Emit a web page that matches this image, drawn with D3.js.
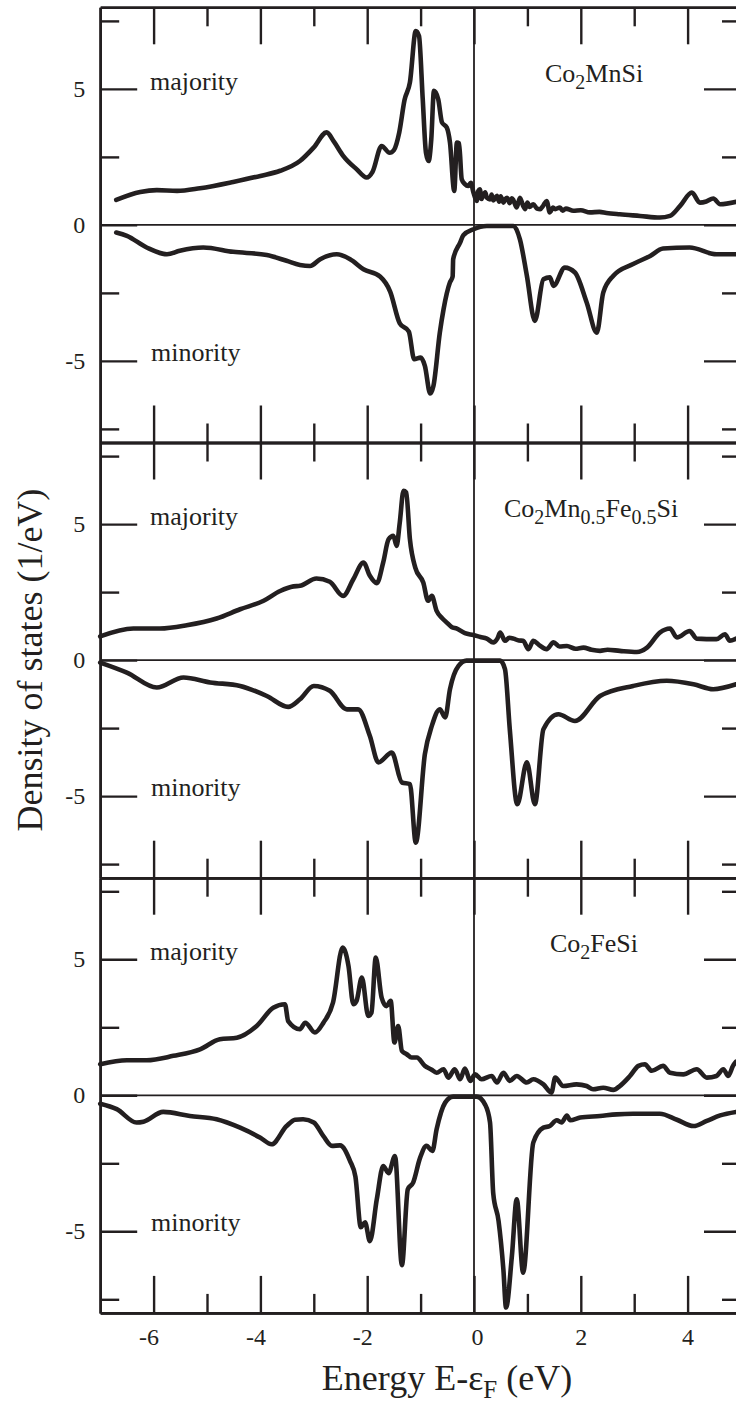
<!DOCTYPE html>
<html>
<head>
<meta charset="utf-8">
<script src="https://cdn.jsdelivr.net/npm/d3@7"></script>
<style>
  html, body { margin: 0; padding: 0; background: #fff; }
  svg { display: block; }
  svg text { font-family: 'Liberation Serif', 'Tinos', 'DejaVu Serif', 'Times New Roman', serif !important; fill: #231f20; }
</style>
</head>
<body>
<svg id="chart" width="736" height="1405"></svg>
<script>
// ---------------- data (energy eV, DOS 1/eV) ----------------
const compounds = ["Co2MnSi", "Co2Mn0.5Fe0.5Si", "Co2FeSi"];
const xMajorTicks = [-6, -4, -2, 0, 2, 4];
const xMinorTicks = [-5, -3, -1, 1, 3];
const yMajorTicks = [-5, 0, 5];
const yMinorTicks = [-7.5, -2.5, 2.5, 7.5];

const mnSiMajority = [[-6.70,0.92],[-6.25,1.21],[-5.94,1.28],[-5.56,1.25],[-5.13,1.35],[-4.51,1.58],[-4.00,1.80],[-3.63,1.99],[-3.26,2.35],[-3.00,2.85],[-2.76,3.40],[-2.62,3.05],[-2.45,2.54],[-2.20,2.05],[-2.01,1.74],[-1.90,1.95],[-1.73,2.90],[-1.58,2.65],[-1.50,2.75],[-1.40,3.40],[-1.30,4.60],[-1.20,5.24],[-1.09,7.13],[-1.03,6.95],[-0.96,4.62],[-0.90,2.66],[-0.85,2.35],[-0.80,3.15],[-0.75,4.93],[-0.67,4.62],[-0.60,3.77],[-0.51,3.58],[-0.45,3.03],[-0.37,1.25],[-0.32,3.03],[-0.28,3.00],[-0.23,1.68],[-0.17,1.50],[-0.11,1.43],[-0.06,1.55],[-0.01,1.19],[0.05,0.88],[0.08,1.25],[0.11,1.31],[0.14,0.95],[0.17,1.07],[0.21,1.20],[0.24,1.00],[0.30,0.94],[0.33,1.12],[0.36,0.90],[0.43,1.07],[0.47,0.85],[0.50,1.05],[0.55,0.82],[0.59,0.96],[0.62,1.00],[0.67,0.80],[0.71,0.98],[0.74,0.90],[0.80,0.64],[0.86,1.00],[0.92,0.70],[0.96,0.58],[1.00,0.82],[1.04,0.66],[1.11,0.76],[1.18,0.60],[1.24,0.58],[1.30,0.72],[1.36,0.88],[1.42,0.46],[1.48,0.64],[1.52,0.58],[1.61,0.64],[1.66,0.52],[1.72,0.60],[1.86,0.52],[2.00,0.54],[2.17,0.46],[2.35,0.48],[2.48,0.44],[2.73,0.39],[3.11,0.33],[3.48,0.27],[3.67,0.33],[3.86,0.70],[4.08,1.19],[4.23,0.82],[4.35,0.86],[4.48,0.97],[4.61,0.76],[4.91,0.85]];

const mnSiMinority = [[-6.70,-0.28],[-6.50,-0.40],[-6.13,-0.83],[-5.75,-1.08],[-5.51,-0.95],[-5.07,-0.83],[-4.51,-0.99],[-3.88,-1.11],[-3.51,-1.32],[-3.26,-1.47],[-3.07,-1.51],[-2.88,-1.26],[-2.57,-1.08],[-2.32,-1.26],[-2.07,-1.63],[-1.76,-1.90],[-1.57,-2.45],[-1.39,-3.62],[-1.22,-3.92],[-1.12,-4.94],[-1.00,-4.88],[-0.92,-5.18],[-0.82,-6.20],[-0.76,-5.92],[-0.64,-3.96],[-0.57,-3.10],[-0.45,-2.11],[-0.40,-1.90],[-0.39,-1.26],[-0.26,-0.65],[-0.20,-0.38],[-0.01,-0.16],[0.24,-0.04],[0.74,-0.04],[0.86,-0.53],[0.99,-1.87],[1.14,-3.53],[1.30,-2.00],[1.42,-1.93],[1.49,-2.24],[1.70,-1.57],[1.89,-1.75],[2.11,-2.85],[2.30,-3.96],[2.42,-2.49],[2.61,-1.87],[2.98,-1.44],[3.30,-1.14],[3.54,-0.87],[4.04,-0.83],[4.54,-1.08],[4.91,-1.08]];

const mnFeSiMajority = [[-7.00,0.87],[-6.38,1.16],[-5.88,1.16],[-5.38,1.28],[-4.82,1.53],[-4.38,1.87],[-3.94,2.18],[-3.63,2.54],[-3.38,2.71],[-3.26,2.73],[-2.95,3.00],[-2.70,2.88],[-2.45,2.36],[-2.26,2.97],[-2.07,3.59],[-1.95,3.10],[-1.82,2.83],[-1.70,3.59],[-1.60,4.44],[-1.51,4.57],[-1.45,4.20],[-1.39,5.06],[-1.32,6.22],[-1.27,6.16],[-1.20,4.44],[-1.10,3.40],[-0.95,2.85],[-0.86,2.18],[-0.79,2.36],[-0.70,1.81],[-0.60,1.55],[-0.51,1.38],[-0.42,1.22],[-0.32,1.16],[-0.17,0.99],[-0.01,0.92],[0.12,0.85],[0.24,0.79],[0.36,0.65],[0.44,0.80],[0.49,1.01],[0.58,0.71],[0.66,0.82],[0.74,0.79],[0.84,0.72],[0.92,0.71],[1.02,0.40],[1.11,0.71],[1.22,0.55],[1.36,0.40],[1.49,0.65],[1.60,0.50],[1.74,0.52],[1.90,0.42],[2.05,0.46],[2.20,0.38],[2.36,0.34],[2.50,0.38],[2.73,0.34],[3.05,0.30],[3.24,0.46],[3.48,1.01],[3.67,1.16],[3.80,0.83],[4.04,1.07],[4.17,0.79],[4.54,0.77],[4.70,0.95],[4.79,0.71],[4.91,0.79]];

const mnFeSiMinority = [[-7.00,-0.09],[-6.50,-0.46],[-5.94,-1.01],[-5.44,-0.64],[-4.94,-0.82],[-4.38,-0.95],[-3.88,-1.32],[-3.48,-1.72],[-3.26,-1.44],[-3.00,-0.95],[-2.70,-1.13],[-2.38,-1.81],[-2.17,-1.81],[-1.95,-2.79],[-1.79,-3.76],[-1.54,-3.40],[-1.35,-4.50],[-1.20,-4.56],[-1.09,-6.71],[-0.92,-3.46],[-0.79,-2.42],[-0.64,-1.81],[-0.54,-2.11],[-0.45,-1.07],[-0.29,-0.21],[-0.14,-0.02],[0.49,-0.02],[0.58,-0.33],[0.67,-2.54],[0.81,-5.30],[0.99,-3.76],[1.14,-5.30],[1.30,-2.54],[1.58,-1.99],[1.89,-2.24],[2.36,-1.32],[2.98,-0.95],[3.61,-0.76],[4.11,-0.89],[4.48,-1.07],[4.91,-0.89]];

const feSiMajority = [[-7.00,1.14],[-6.50,1.29],[-6.13,1.29],[-5.63,1.45],[-5.13,1.69],[-4.76,2.06],[-4.44,2.12],[-4.07,2.55],[-3.76,3.22],[-3.54,3.35],[-3.48,2.73],[-3.26,2.43],[-3.16,2.67],[-2.98,2.31],[-2.82,2.67],[-2.64,3.41],[-2.46,5.43],[-2.35,4.75],[-2.26,3.35],[-2.20,3.47],[-2.10,4.33],[-1.98,2.92],[-1.92,3.04],[-1.84,5.06],[-1.73,3.59],[-1.64,3.28],[-1.56,3.47],[-1.49,1.94],[-1.42,2.55],[-1.35,1.63],[-1.26,1.51],[-1.17,1.39],[-1.07,1.39],[-0.92,1.08],[-0.80,0.95],[-0.70,0.83],[-0.57,0.96],[-0.48,0.65],[-0.36,0.96],[-0.26,0.59],[-0.17,0.98],[-0.07,0.53],[0.02,0.77],[0.14,0.59],[0.33,0.71],[0.43,0.47],[0.55,0.83],[0.67,0.53],[0.80,0.71],[0.99,0.47],[1.11,0.59],[1.30,0.40],[1.45,0.10],[1.52,0.65],[1.67,0.34],[1.92,0.40],[2.11,0.34],[2.23,0.22],[2.42,0.28],[2.61,0.20],[2.73,0.34],[2.92,0.71],[3.08,1.08],[3.20,1.14],[3.33,0.90],[3.54,1.08],[3.67,0.83],[3.92,0.77],[4.17,0.96],[4.36,0.65],[4.54,0.71],[4.67,0.96],[4.76,0.71],[4.85,1.08],[4.91,1.24]];

const feSiMinority = [[-7.00,-0.31],[-6.69,-0.51],[-6.32,-1.00],[-6.19,-0.97],[-5.82,-0.61],[-5.32,-0.76],[-4.82,-0.88],[-4.38,-1.19],[-4.00,-1.56],[-3.79,-1.80],[-3.51,-1.13],[-3.35,-0.90],[-3.20,-0.88],[-3.00,-1.00],[-2.82,-1.50],[-2.66,-1.86],[-2.51,-1.84],[-2.32,-2.42],[-2.22,-3.00],[-2.12,-4.85],[-2.04,-4.67],[-1.95,-5.36],[-1.82,-3.82],[-1.70,-2.60],[-1.60,-2.86],[-1.48,-2.23],[-1.35,-6.25],[-1.24,-3.46],[-1.14,-3.21],[-1.01,-2.30],[-0.89,-1.86],[-0.78,-2.05],[-0.70,-1.25],[-0.54,-0.27],[-0.39,-0.05],[0.05,-0.05],[0.21,-0.35],[0.30,-1.00],[0.36,-3.60],[0.46,-4.62],[0.55,-6.40],[0.60,-7.80],[0.71,-5.90],[0.80,-3.82],[0.92,-6.52],[1.11,-1.74],[1.30,-1.19],[1.42,-1.13],[1.55,-0.92],[1.64,-1.00],[1.74,-0.74],[1.80,-0.92],[1.99,-0.82],[2.36,-0.76],[2.67,-0.70],[2.98,-0.68],[3.48,-0.68],[3.80,-0.90],[4.11,-1.13],[4.36,-0.94],[4.61,-0.74],[4.91,-0.61]];

// --------------- layout ---------------
const ink = "#231f20";
const serif = "'Liberation Serif', 'Tinos', 'DejaVu Serif', 'Times New Roman', serif";
const svg = d3.select("#chart");
const x = d3.scaleLinear().domain([-7, 5]).range([100.2, 741]);
const panelTop = [7.3, 442.5, 877.7];
const panelH = 435.2;

const panels = [
  {maj: mnSiMajority, min: mnSiMinority, label: [["Co",""],["2","sub"],["MnSi",""]], lx: 545},
  {maj: mnFeSiMajority, min: mnFeSiMinority, label: [["Co",""],["2","sub"],["Mn",""],["0.5","sub"],["Fe",""],["0.5","sub"],["Si",""]], lx: 504},
  {maj: feSiMajority, min: feSiMinority, label: [["Co",""],["2","sub"],["FeSi",""]], lx: 550}
];

const fmt = d => (d < 0 ? "-" + Math.abs(d) : String(d));

panels.forEach((p, i) => {
  const top = panelTop[i];
  const y = d3.scaleLinear().domain([-8, 8]).range([top + panelH, top]);
  const g = svg.append("g");

  g.append("line").attr("x1", x(-7)).attr("x2", x(5))
    .attr("y1", y(0)).attr("y2", y(0))
    .attr("stroke", ink).attr("stroke-width", 1.8);

  const styleAxis = sel => {
    sel.attr("font-family", serif);
    sel.selectAll(".domain").attr("stroke", ink).attr("stroke-width", 2.6);
    sel.selectAll(".tick line").attr("stroke", ink).attr("stroke-width", 2.4);
    sel.selectAll(".tick text").attr("fill", ink)
      .attr("font-family", serif).style("font-size", "24px");
  };
  g.append("g").attr("transform", `translate(${x(-7)},0)`)
    .call(d3.axisLeft(y).tickValues(yMajorTicks).tickSizeInner(-37).tickSizeOuter(0).tickPadding(15).tickFormat(fmt))
    .call(styleAxis);
  g.append("g").attr("transform", `translate(${x(-7)},0)`)
    .call(d3.axisLeft(y).tickValues(yMinorTicks).tickSizeInner(-19).tickSizeOuter(0).tickFormat(""))
    .call(styleAxis);
  g.append("g").attr("transform", `translate(${x(5)},0)`)
    .call(d3.axisRight(y).tickValues(yMajorTicks).tickSizeInner(-37).tickSizeOuter(0).tickFormat(""))
    .call(styleAxis);
  g.append("g").attr("transform", `translate(${x(5)},0)`)
    .call(d3.axisRight(y).tickValues(yMinorTicks).tickSizeInner(-19).tickSizeOuter(0).tickFormat(""))
    .call(styleAxis);
  g.append("g").attr("transform", `translate(0,${top})`)
    .call(d3.axisTop(x).tickValues(xMajorTicks).tickSizeInner(-37).tickSizeOuter(0).tickFormat(""))
    .call(styleAxis);
  g.append("g").attr("transform", `translate(0,${top})`)
    .call(d3.axisTop(x).tickValues(xMinorTicks).tickSizeInner(-19).tickSizeOuter(0).tickFormat(""))
    .call(styleAxis);
  const bx = g.append("g").attr("transform", `translate(0,${top + panelH})`)
    .call(d3.axisBottom(x).tickValues(xMajorTicks).tickSizeInner(-37).tickSizeOuter(0).tickPadding(15)
      .tickFormat(i === 2 ? fmt : ""))
    .call(styleAxis);
  bx.selectAll(".tick text").attr("dx", d => (d < 0 ? -5 : d === 0 ? 3 : 0));
  g.append("g").attr("transform", `translate(0,${top + panelH})`)
    .call(d3.axisBottom(x).tickValues(xMinorTicks).tickSizeInner(-19).tickSizeOuter(0).tickFormat(""))
    .call(styleAxis);

  const line = d3.line().x(d => x(d[0])).y(d => y(d[1])).curve(d3.curveMonotoneX);
  [p.maj, p.min].forEach(s => {
    g.append("path").datum(s).attr("d", line)
      .attr("fill", "none").attr("stroke", ink).attr("stroke-width", 4.6)
      .attr("stroke-linejoin", "round").attr("stroke-linecap", "round");
  });

  g.append("text").attr("x", 150).attr("y", y(5) + 1).attr("font-family", serif)
    .style("font-size", "26px").text("majority");
  g.append("text").attr("x", 151).attr("y", y(-5)).attr("font-family", serif)
    .style("font-size", "26px").text("minority");

  const t = g.append("text").attr("x", p.lx).attr("y", y(5.27)).attr("font-family", serif).style("font-size", "26px");
  let shifted = false;
  p.label.forEach(([s, kind]) => {
    const ts = t.append("tspan").text(s);
    if (kind === "sub") {
      ts.style("font-size", "20px").attr("dy", shifted ? 0 : 7);
      shifted = true;
    } else {
      if (shifted) ts.attr("dy", -7);
      shifted = false;
    }
  });
});

svg.append("line").attr("x1", x(0)).attr("x2", x(0))
  .attr("y1", panelTop[0]).attr("y2", panelTop[2] + panelH)
  .attr("stroke", ink).attr("stroke-width", 1.8);

svg.append("text")
  .attr("transform", `translate(42,${(panelTop[0] + panelTop[2] + panelH) / 2}) rotate(-90)`)
  .attr("text-anchor", "middle").attr("font-family", serif).style("font-size", "36px")
  .text("Density of states (1/eV)");

const xt = svg.append("text").attr("x", 447).attr("y", 1390)
  .attr("text-anchor", "middle").attr("font-family", serif).style("font-size", "36px");
xt.append("tspan").text("Energy E-\u03b5");
xt.append("tspan").attr("dy", 8).style("font-size", "25px").text("F");
xt.append("tspan").attr("dy", -8).text(" (eV)");
</script>
</body>
</html>
